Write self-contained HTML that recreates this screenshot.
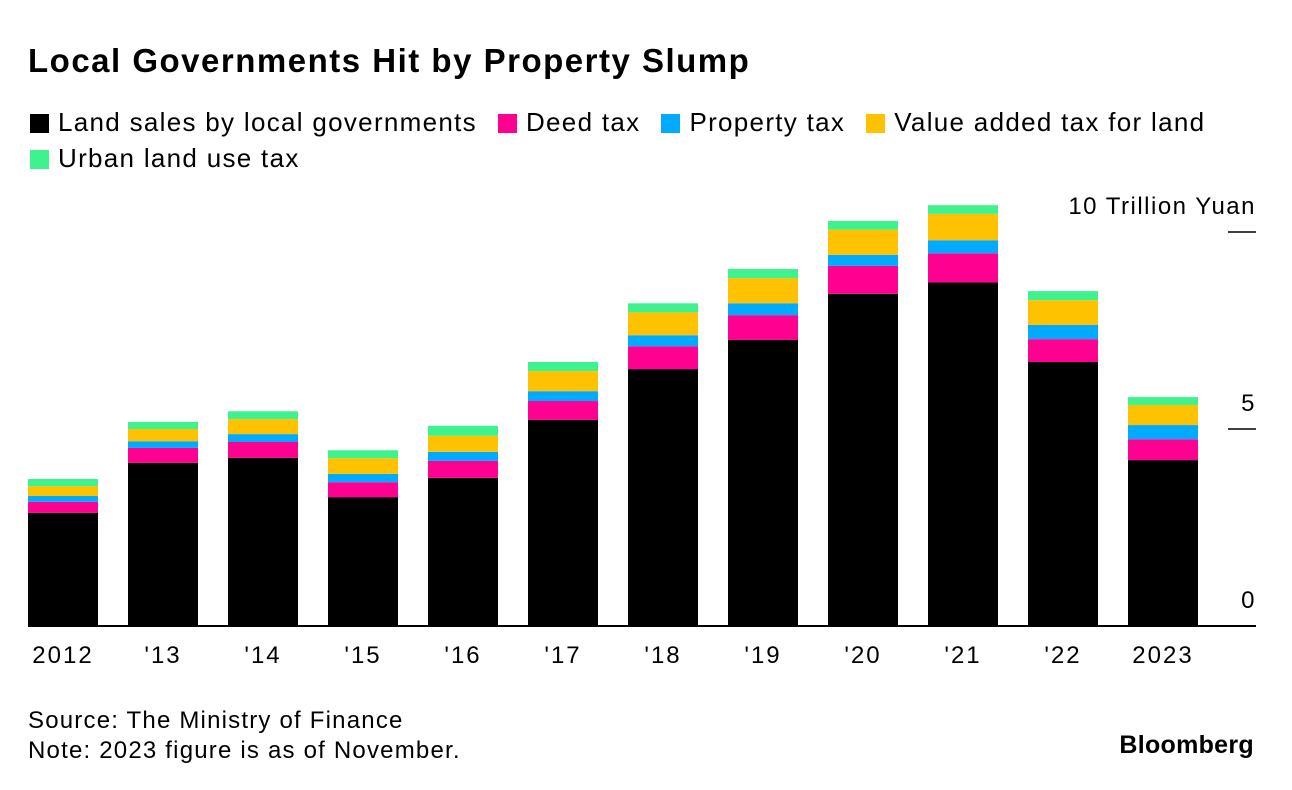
<!DOCTYPE html>
<html><head><meta charset="utf-8"><style>
body{margin:0;background:#fff;width:1292px;height:790px;overflow:hidden;font-family:"Liberation Sans",Arial,sans-serif;color:#000}
.t{position:absolute;white-space:nowrap}
.sq{display:inline-block;width:19px;height:19px;vertical-align:-2px;margin-right:9px}
.li{margin-right:21px}
</style></head><body>
<div class="t" style="left:28px;top:42px;font-size:33px;font-weight:bold;letter-spacing:1.5px">Local Governments Hit by Property Slump</div>
<div class="t" style="left:30px;top:104px;font-size:26px;line-height:36px;letter-spacing:1.3px">
<span class="li"><span class="sq" style="background:#000"></span>Land sales by local governments</span><span class="li"><span class="sq" style="background:#ff0090"></span>Deed tax</span><span class="li"><span class="sq" style="background:#00aaff"></span>Property tax</span><span class="li"><span class="sq" style="background:#ffc200"></span>Value added tax for land</span><br>
<span class="li"><span class="sq" style="background:#3ef28d"></span>Urban land use tax</span>
</div>
<svg id="chart" width="1292" height="790" style="position:absolute;left:0;top:0"></svg>
<div class="t" style="left:28px;top:706px;font-size:24px;line-height:30px;letter-spacing:1.2px">Source: The Ministry of Finance<br>Note: 2023 figure is as of November.</div>
<div class="t" style="right:38px;top:731px;font-size:25px;font-weight:bold;letter-spacing:0.3px">Bloomberg</div>
<script>
const categories=["2012","'13","'14","'15","'16","'17","'18","'19","'20","'21","'22","2023"];
const landSales=[2.87,4.14,4.27,3.27,3.76,5.23,6.52,7.26,8.43,8.72,6.70,4.21];
const deedTax=[0.28,0.38,0.40,0.38,0.43,0.48,0.58,0.63,0.71,0.74,0.58,0.53];
const propertyTax=[0.15,0.17,0.20,0.21,0.23,0.25,0.28,0.30,0.28,0.33,0.36,0.36];
const vatLand=[0.25,0.31,0.38,0.40,0.41,0.51,0.58,0.64,0.64,0.67,0.63,0.51];
const urbanLandTax=[0.18,0.18,0.20,0.20,0.25,0.23,0.23,0.23,0.22,0.22,0.23,0.20];
const yTicks=[0,5,10];
const yTickLabels=["0","5","10 Trillion Yuan"];
const NS="http://www.w3.org/2000/svg";
const svg=document.getElementById('chart');
const y=v=>626-v*39.4;
const xL=i=>28+i*100;
const bw=70;
function mk(tag,a){const e=document.createElementNS(NS,tag);for(const k in a)e.setAttribute(k,a[k]);svg.appendChild(e);return e;}
const series=[[landSales,"#000","land-sales"],[deedTax,"#ff0090","deed-tax"],[propertyTax,"#00aaff","property-tax"],[vatLand,"#ffc200","vat-land"],[urbanLandTax,"#3ef28d","urban-land-tax"]];
categories.forEach((c,i)=>{
  let base=0;
  series.forEach(([arr,col,nm])=>{
    const v=arr[i];
    const r=mk('rect',{x:xL(i),y:y(base+v),width:bw,height:y(base)-y(base+v),fill:col});
    
    
    base+=v;
  });
  const t=mk('text',{x:xL(i)+bw/2,y:663,'text-anchor':'middle','font-size':24,'letter-spacing':2,'font-family':'Liberation Sans, sans-serif'});
  t.textContent=c;
  
  
});
yTicks.forEach((v,k)=>{
  if(v>0){const l=mk('line',{x1:1228,x2:1256,y1:y(v),y2:y(v),stroke:'#000','stroke-width':1.5});
  
  }
  const t=mk('text',{x:1256,y:y(v)-18,'text-anchor':'end','font-size':24,'letter-spacing':1.5,'font-family':'Liberation Sans, sans-serif'});
  t.textContent=yTickLabels[k];
  
  
});
const ax=mk('line',{x1:28,x2:1256,y1:626,y2:626,stroke:'#000','stroke-width':2});


</script>
</body></html>
